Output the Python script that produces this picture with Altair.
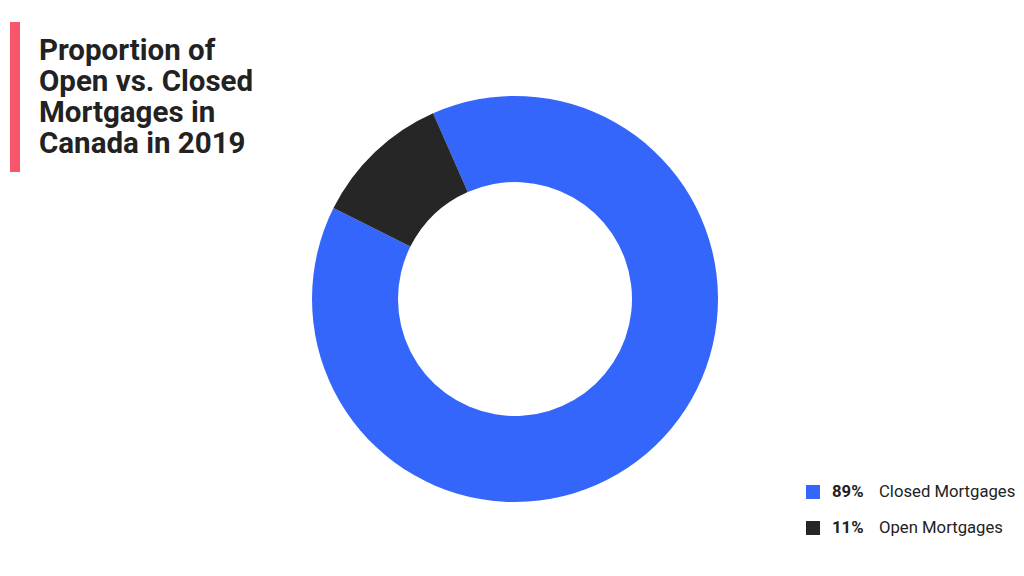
import altair as alt
import pandas as pd
import math

categories = ["Closed Mortgages", "Open Mortgages"]
values = [89, 11]
pct_labels = ["89%", "11%"]
colors = ["#3466FB", "#262626"]
title_lines = ["Proportion of", "Open vs. Closed", "Mortgages in", "Canada in 2019"]

df = pd.DataFrame({"cat": categories, "value": values, "pct": pct_labels, "order": [0, 1]})

start = math.radians(-23.8)

color_scale = alt.Scale(domain=categories, range=colors)

donut = alt.Chart(df).mark_arc(innerRadius=117, outerRadius=203).encode(
    theta=alt.Theta("value:Q", stack=True, scale=alt.Scale(range=[start, start + 2 * math.pi])),
    order=alt.Order("order:Q"),
    color=alt.Color("cat:N", scale=color_scale, legend=None),
    x=alt.value(507),
    y=alt.value(291),
)

yleg = alt.Y("cat:N", scale=alt.Scale(type="point", domain=categories, range=[484, 520], padding=0), axis=None)

leg_sq = alt.Chart(df).mark_square(size=196, opacity=1).encode(
    x=alt.value(805), y=yleg,
    color=alt.Color("cat:N", scale=color_scale, legend=None),
)
leg_pct = alt.Chart(df).mark_text(align="left", baseline="middle", font="Roboto", fontSize=16.7,
                                  fontWeight="bold", color="#222222").encode(
    x=alt.value(824), y=yleg, text="pct:N")
leg_lab = alt.Chart(df).mark_text(align="left", baseline="middle", font="Roboto", fontSize=16.7,
                                  color="#222222").encode(
    x=alt.value(871), y=yleg, text="cat:N")

tdf = pd.DataFrame({"t": ["\n".join(title_lines)]})
title = alt.Chart(tdf).mark_text(align="left", baseline="top", font="Roboto", fontSize=29.5,
                                 fontWeight="bold", color="#222222", lineBreak="\n",
                                 lineHeight=31).encode(
    x=alt.value(31), y=alt.value(29), text="t:N")

bar = alt.Chart(tdf).mark_rule(color="#F7566B", strokeWidth=10).encode(
    x=alt.value(7), y=alt.value(14), y2=alt.value(164))

chart = alt.layer(donut, leg_sq, leg_pct, leg_lab, title, bar).properties(
    width=1008, height=560,
    autosize=alt.AutoSizeParams(type="fit", contains="padding"),
    padding=0,
    background="white",
).configure_view(strokeWidth=0, strokeOpacity=0)

chart.save("out.html", embed_options={"renderer": "svg", "actions": False})
